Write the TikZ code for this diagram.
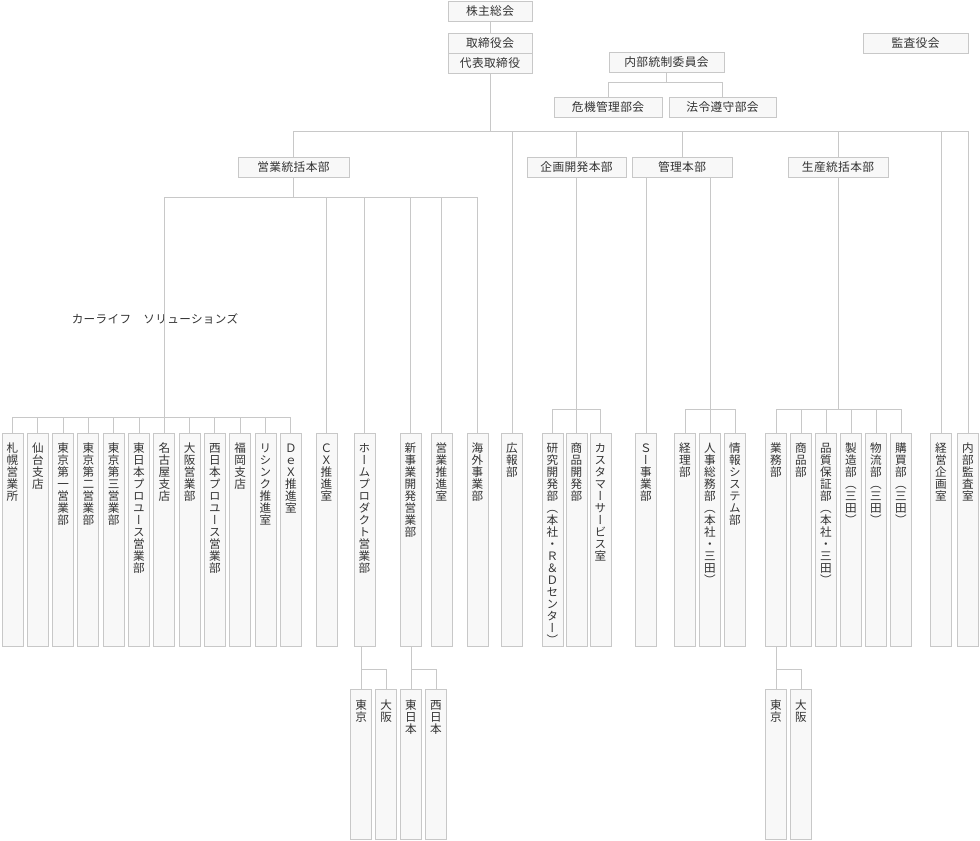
\documentclass[tikz,border=0pt]{standalone}
\usepackage{fontspec}
\setmainfont{Noto Sans CJK JP}
\newfontfamily\jp[LetterSpace=3]{Noto Sans CJK JP}
\newfontfamily\vjp[RawFeature=+vert]{Noto Sans CJK JP}
\definecolor{ln}{HTML}{C8C8C8}
\definecolor{bxf}{HTML}{F8F8F8}
\definecolor{tx}{HTML}{333333}
\makeatletter
\def\vt@end{\vt@end}
\def\vt@loop#1{\ifx\vt@end#1\else\hbox to 15.75pt{\hss\vrule height 7.4pt depth 1.6pt width 0pt #1\hss}\expandafter\vt@loop\fi}
\newcommand\vstack[1]{\vbox{\baselineskip=9pt\lineskiplimit=-100pt\lineskip=0pt\vt@loop#1\vt@end}}
\makeatother
\tikzset{
  hb/.style={draw=ln, fill=bxf, line width=0.75pt, inner sep=0pt, text=tx, font=\jp\fontsize{8.8pt}{10pt}\selectfont},
  vb/.style={draw=ln, fill=bxf, line width=0.75pt, inner sep=0pt, minimum width=15.75pt, text=tx, font=\vjp\fontsize{8.7pt}{9pt}\selectfont},
  lab/.style={inner sep=0pt, text=tx, font=\jp\fontsize{8.7pt}{10pt}\selectfont},
  conn/.style={draw=ln, line width=0.75pt}
}
\newcommand\HB[6]{%
  \pgfmathsetmacro\hbw{(#4-#2)*0.75}%
  \pgfmathsetmacro\hbh{(#5-#3)*0.75}%
  \node[hb, minimum width=\hbw pt, minimum height=\hbh pt] (#1) at ({(#2+#4)/2},{(#3+#5)/2}) {#6};}
\newcommand\VB[5]{%
  \pgfmathsetmacro\vbh{(#4-#3)*0.75}%
  \node[vb, minimum height=\vbh pt, anchor=north] (#1) at (#2,#3) {\vbox to \vbh pt{\vskip 7pt\vstack{#5}\vss}};}
\begin{document}
\begin{tikzpicture}[x=0.75pt,y=-0.75pt]
\path[fill=white] (0,0) rectangle (980,840);
\useasboundingbox (0,0) rectangle (980,840);
% top boxes
\HB{kabu}{448}{1}{532}{21}{株主総会}
\HB{tori}{448}{33}{532}{53}{取締役会}
\HB{dai}{448}{53}{532}{73}{代表取締役}
\HB{naibu}{609}{52}{724}{72}{内部統制委員会}
\HB{kiki}{554}{97}{662}{117}{危機管理部会}
\HB{hourei}{669}{97}{776}{117}{法令遵守部会}
\HB{kansa}{863}{33}{968}{53}{監査役会}
\HB{eigyo}{238}{157}{349}{177}{営業統括本部}
\HB{kikaku}{527}{157}{626}{177}{企画開発本部}
\HB{kanri}{632}{157}{732}{177}{管理本部}
\HB{seisan}{788}{157}{888}{177}{生産統括本部}
\node[lab] (cls) at (155,319) {カーライフ　ソリューションズ};
% left twelve
\VB{l1}{12.5}{432.5}{645.5}{札幌営業所}
\VB{l2}{37.8}{432.5}{645.5}{仙台支店}
\VB{l3}{63.1}{432.5}{645.5}{東京第一営業部}
\VB{l4}{88.4}{432.5}{645.5}{東京第二営業部}
\VB{l5}{113.7}{432.5}{645.5}{東京第三営業部}
\VB{l6}{139}{432.5}{645.5}{東日本プロユース営業部}
\VB{l7}{164.3}{432.5}{645.5}{名古屋支店}
\VB{l8}{189.6}{432.5}{645.5}{大阪営業部}
\VB{l9}{214.9}{432.5}{645.5}{西日本プロユース営業部}
\VB{l10}{240.2}{432.5}{645.5}{福岡支店}
\VB{l11}{265.5}{432.5}{645.5}{リシンク推進室}
\VB{l12}{290.8}{432.5}{645.5}{ＤｅＸ推進室}
\VB{cx}{326.5}{432.5}{645.5}{ＣＸ推進室}
\VB{home}{364.5}{432.5}{645.5}{ホームプロダクト営業部}
\VB{shin}{410.5}{432.5}{645.5}{新事業開発営業部}
\VB{suishin}{441.5}{432.5}{645.5}{営業推進室}
\VB{kaigai}{477.5}{432.5}{645.5}{海外事業部}
\VB{kouhou}{512}{432.5}{645.5}{広報部}
\VB{k1}{552.5}{432.5}{645.5}{研究開発部（本社・Ｒ＆Ｄセンター）}
\VB{k2}{576.5}{432.5}{645.5}{商品開発部}
\VB{k3}{600.5}{432.5}{645.5}{カスタマーサービス室}
\VB{si}{646}{432.5}{645.5}{Ｓー事業部}
\VB{j1}{685}{432.5}{645.5}{経理部}
\VB{j2}{710}{432.5}{645.5}{人事総務部（本社・三田）}
\VB{j3}{735}{432.5}{645.5}{情報システム部}
\VB{p1}{776}{432.5}{645.5}{業務部}
\VB{p2}{801}{432.5}{645.5}{商品部}
\VB{p3}{826}{432.5}{645.5}{品質保証部（本社・三田）}
\VB{p4}{851}{432.5}{645.5}{製造部（三田）}
\VB{p5}{876}{432.5}{645.5}{物流部（三田）}
\VB{p6}{901}{432.5}{645.5}{購買部（三田）}
\VB{keiei}{941}{432.5}{645.5}{経営企画室}
\VB{naikansa}{968}{432.5}{645.5}{内部監査室}
% sub boxes
\VB{ht}{361.2}{689.3}{838.8}{東京}
\VB{ho}{386.2}{689.3}{838.8}{大阪}
\VB{se}{411}{689.3}{838.8}{東日本}
\VB{sw}{436}{689.3}{838.8}{西日本}
\VB{pt}{776}{689.3}{838.8}{東京}
\VB{po}{801}{689.3}{838.8}{大阪}
% connector levels
\coordinate (bus) at (0,131);
\coordinate (nb) at (0,82);
\coordinate (sb) at (0,197);
\coordinate (lb) at (0,417);
\coordinate (mb) at (0,409);
\coordinate (subl) at (0,669);
% top
\draw[conn] (kabu.south) -- (tori.north);
\draw[conn] (dai.south) -- (dai.south |- bus);
\draw[conn] (eigyo.north) -- (eigyo.north |- bus) -- (naikansa.north |- bus) -- (naikansa.north);
\draw[conn] (kouhou.north) -- (kouhou.north |- bus);
\draw[conn] (kikaku.north) -- (kikaku.north |- bus);
\draw[conn] (kanri.north) -- (kanri.north |- bus);
\draw[conn] (seisan.north) -- (seisan.north |- bus);
\draw[conn] (keiei.north) -- (keiei.north |- bus);
\draw[conn] (naibu.south) -- (naibu.south |- nb);
\draw[conn] (kiki.north) -- (kiki.north |- nb) -- (hourei.north |- nb) -- (hourei.north);
% sales
\draw[conn] (eigyo.south) -- (eigyo.south |- sb);
\draw[conn] (l7.north |- sb) -- (kaigai.north |- sb) -- (kaigai.north);
\draw[conn] (l7.north |- sb) -- (l7.north);
\foreach \n in {cx,home,shin,suishin} \draw[conn] (\n.north) -- (\n.north |- sb);
\draw[conn] (l1.north) -- (l1.north |- lb) -- (l12.north |- lb) -- (l12.north);
\foreach \n in {l2,l3,l4,l5,l6,l8,l9,l10,l11} \draw[conn] (\n.north) -- (\n.north |- lb);
% kikaku
\draw[conn] (kikaku.south) -- (kikaku.south |- mb);
\draw[conn] (k1.north) -- (k1.north |- mb) -- (k3.north |- mb) -- (k3.north);
\draw[conn] (k2.north) -- (k2.north |- mb);
% kanri
\draw[conn] (si.north) -- (si.north |- kanri.south);
\draw[conn] (j2.north |- kanri.south) -- (j2.north);
\draw[conn] (j1.north) -- (j1.north |- mb) -- (j3.north |- mb) -- (j3.north);
% seisan
\draw[conn] (seisan.south) -- (seisan.south |- mb);
\draw[conn] (p1.north) -- (p1.north |- mb) -- (p6.north |- mb) -- (p6.north);
\foreach \n in {p2,p3,p4,p5} \draw[conn] (\n.north) -- (\n.north |- mb);
% sub branches
\draw[conn] (ht.north |- home.south) -- (ht.north);
\draw[conn] (ht.north |- subl) -- (ho.north |- subl) -- (ho.north);
\draw[conn] (se.north |- shin.south) -- (se.north);
\draw[conn] (se.north |- subl) -- (sw.north |- subl) -- (sw.north);
\draw[conn] (pt.north |- p1.south) -- (pt.north);
\draw[conn] (pt.north |- subl) -- (po.north |- subl) -- (po.north);
\end{tikzpicture}
\end{document}
